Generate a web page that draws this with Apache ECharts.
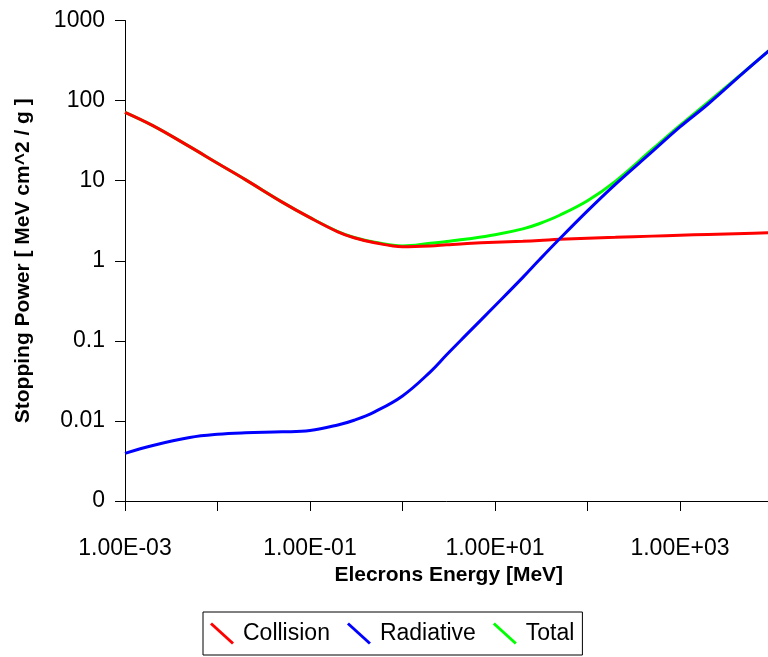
<!DOCTYPE html>
<html>
<head>
<meta charset="utf-8">
<script src="https://cdn.jsdelivr.net/npm/echarts@6/dist/echarts.min.js"></script>
<style>
  html, body { margin: 0; padding: 0; background: #fff; }
  #chart { width: 768px; height: 657px; }
</style>
</head>
<body>
<div id="chart"></div>
<script>
// electron energy [MeV]
var energies = [0.001, 0.002, 0.005, 0.01, 0.02, 0.05, 0.1, 0.2, 0.3, 0.5, 1, 2, 3, 5,
                10, 20, 30, 50, 100, 200, 500, 1000, 2000, 5000, 10000];
// stopping power [MeV cm^2 / g]
var collision = [71.4, 48.7, 26.6, 16.5, 10.3, 5.4, 3.45, 2.3, 1.94, 1.68, 1.50, 1.53, 1.58, 1.64,
                 1.70, 1.75, 1.79, 1.85, 1.91, 1.96, 2.03, 2.08, 2.13, 2.19, 2.24];
var radiative = [0.00394, 0.00494, 0.0062, 0.0068, 0.0071, 0.0073, 0.0076, 0.0089, 0.0102, 0.013, 0.0205, 0.041, 0.067, 0.122,
                 0.274, 0.62, 1.02, 1.88, 4.2, 9.0, 23, 46.9, 90, 230, 458];
var total = [71.4, 48.7, 26.6, 16.5, 10.3, 5.4, 3.46, 2.31, 1.95, 1.70, 1.53, 1.65, 1.74, 1.87,
             2.11, 2.5, 2.9, 3.7, 5.6, 9.8, 24.5, 49, 95, 232, 460];

var seriesNames = ['Collision', 'Radiative', 'Total'];
var seriesColors = ['#ff0000', '#0000ff', '#00ff00'];

function pairs(vals) {
  var out = [];
  for (var i = 0; i < energies.length; i++) out.push([energies[i], vals[i]]);
  return out;
}

function sciLabel(v) {
  var e = Math.round(Math.log10(v));
  if ((e + 3) % 2 !== 0) return '';
  var a = Math.abs(e);
  return '1.00E' + (e < 0 ? '-' : '+') + (a < 10 ? '0' : '') + a;
}

var font = 'Liberation Sans, Arial, sans-serif';
var legendIcon = 'path://M0,2 L2,0 L24,20 L22,22 Z';

var dom = document.getElementById('chart');
var myChart = echarts.init(dom);
var option = {
  animation: false,
  backgroundColor: '#fff',
  grid: { left: 125, right: -4.5, top: 20.5, bottom: 156, outerBoundsMode: 'none' },
  xAxis: {
    type: 'log', logBase: 10, min: 0.001, max: 10000, splitNumber: 7,
    name: 'Elecrons Energy [MeV]', nameLocation: 'middle', nameGap: 58,
    nameTextStyle: { fontFamily: font, fontWeight: 'bold', fontSize: 21, color: '#000' },
    axisLine: { lineStyle: { color: '#000', width: 1 } },
    axisTick: { inside: false, length: 10, lineStyle: { color: '#000' } },
    axisLabel: { formatter: sciLabel, fontFamily: font, fontSize: 23, color: '#000', margin: 36 },
    splitLine: { show: false },
    minorTick: { show: false }
  },
  yAxis: {
    type: 'log', logBase: 10, min: 0.001, max: 1000, splitNumber: 6,
    name: 'Stopping Power [ MeV cm^2 / g ]', nameLocation: 'middle', nameGap: 91,
    nameTextStyle: { fontFamily: font, fontWeight: 'bold', fontSize: 21, color: '#000' },
    axisLine: { show: true, lineStyle: { color: '#000', width: 1 } },
    axisTick: { show: true, inside: false, length: 10, lineStyle: { color: '#000' } },
    axisLabel: {
      formatter: function (v) { return v < 0.005 ? '0' : String(Number(v.toPrecision(3))); },
      fontFamily: font, fontSize: 23, color: '#000', margin: 20
    },
    splitLine: { show: false }
  },
  legend: {
    data: seriesNames.map(function (n) { return { name: n, icon: legendIcon }; }),
    left: 203, top: 612,
    orient: 'horizontal',
    padding: [10, 8, 10, 7],
    itemWidth: 24, itemHeight: 22, itemGap: 17,
    borderColor: '#000', borderWidth: 1,
    textStyle: { fontFamily: font, fontSize: 23, color: '#000', padding: [0, 0, 0, 4] }
  },
  series: [
    { name: seriesNames[0], data: pairs(collision), z: 3 },
    { name: seriesNames[1], data: pairs(radiative), z: 3 },
    { name: seriesNames[2], data: pairs(total), z: 2 }
  ].map(function (s, i) {
    s.type = 'line';
    s.smooth = 0.4;
    s.showSymbol = false;
    s.symbol = 'none';
    s.color = seriesColors[i];
    s.itemStyle = { color: seriesColors[i] };
    s.lineStyle = { color: seriesColors[i], width: 3 };
    return s;
  })
};

if (option && typeof option === "object") {
  myChart.setOption(option, true);
}
</script>
</body>
</html>
